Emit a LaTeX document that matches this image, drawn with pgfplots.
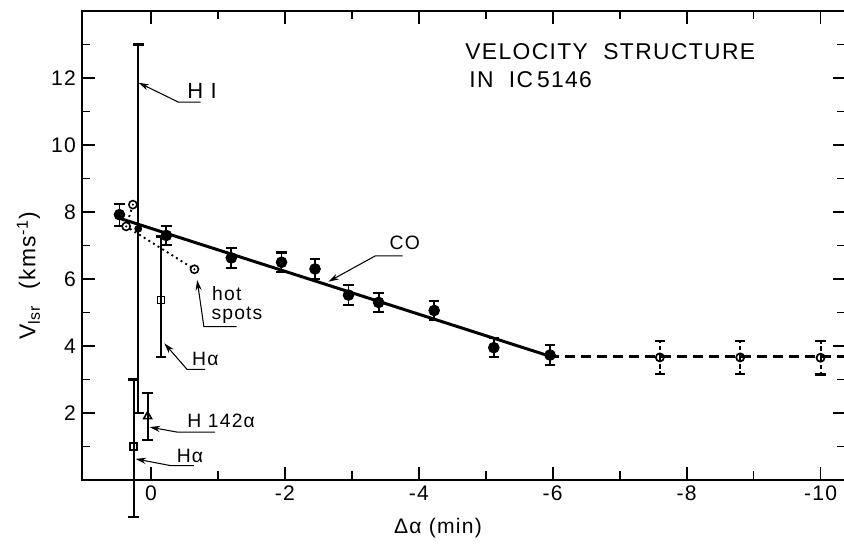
\documentclass[border=0pt]{standalone}
\usepackage{fontspec}
\setmainfont{Liberation Sans}
\newfontfamily\lettering[LetterSpace=6]{Liberation Sans}
\usepackage{pgfplots}
\pgfplotsset{compat=1.18}
\usetikzlibrary{arrows.meta}

% circle with a dot in the middle (hot spots)
\pgfdeclareplotmark{odot}{%
  \pgfpathcircle{\pgfpointorigin}{\pgfplotmarksize}\pgfusepathqfillstroke
  \pgfscope
  \pgfsetfillcolor{black}%
  \pgfpathcircle{\pgfpointorigin}{0.3\pgfplotmarksize}\pgfusepathqfill
  \endpgfscope}

\newcommand{\annfont}{\lettering\fontsize{11}{13}\selectfont}

\pgfplotsset{
  capbar/.style={error bars/.cd, y dir=both, y explicit,
    error bar style={line width=1.1pt},
    error mark options={rotate=90, line width=1.2pt, mark size=3pt}},
}

\begin{document}
\begin{tikzpicture}[font=\lettering\fontsize{13}{16}\selectfont,
  >={Stealth[length=6pt,width=3.5pt]}]
\begin{axis}[
  scale only axis,
  width=15.28cm, height=9.38cm,
  x dir=reverse,
  xmin=-10.38, xmax=1.03,
  ymin=0, ymax=14,
  xtick={-10,-8,...,0},
  minor xtick={-9,-7,...,-1},
  ytick={2,4,...,12},
  minor ytick={1,3,...,13},
  major tick length=0.26cm, minor tick length=0.17cm,
  tick style={black, line width=1pt},
  axis line style={line width=1.1pt},
  /pgf/number format/assume math mode=true,
  ticklabel style={font=\lettering\fontsize{12}{14}\selectfont},
  xlabel={Δα (min)},
  ylabel={V\textsubscript{lsr}\ \ (kms\textsuperscript{-1})},
  xlabel style={at={(axis description cs:0.466,-0.102)}, anchor=center,
    font=\lettering\fontsize{12}{14}\selectfont},
  ylabel style={at={(axis description cs:-0.07,0.435)}, anchor=center},
  clip=false,
]
\coordinate (O) at (axis description cs:0,0);

% CO fit and its extension
\addplot[black, line width=1.7pt] coordinates {(0.45,7.8) (-5.95,3.7)};
\addplot[black, line width=1.4pt, dash pattern=on 0.2cm off 0.12cm]
  coordinates {(-5.95,3.68) (-10.38,3.68)};

% hot spots
\addplot[black, line width=1.1pt, dotted, mark=odot, mark size=2.3pt,
  mark options={solid, fill=white, line width=0.9pt}]
  coordinates {(0.27,8.22) (0.37,7.57) (-0.65,6.29)};

% CO points
\addplot[black, only marks, mark=*, mark size=3.1pt, capbar]
  coordinates {
  (0.47,7.92) +- (0,0.33)
  (-0.23,7.3) +- (0,0.29)
  (-1.2,6.63) +- (0,0.29)
  (-1.95,6.5) +- (0,0.29)
  (-2.45,6.3) +- (0,0.29)
  (-2.95,5.52) +- (0,0.29)
  (-3.4,5.3) +- (0,0.29)
  (-4.23,5.06) +- (0,0.29)
  (-5.12,3.95) +- (0,0.29)
  (-5.96,3.73) +- (0,0.29)
};

% extrapolated points
\addplot[black, only marks, mark=o, mark size=2.3pt,
  mark options={fill=white, line width=1pt},
  error bars/.cd, y dir=both, y explicit,
  error bar style={line width=1.1pt, dash pattern=on 2.5pt off 1.5pt},
  error mark options={rotate=90, solid, line width=1.2pt, mark size=3pt}]
  coordinates {(-7.6,3.66) +- (0,0.5) (-8.8,3.66) +- (0,0.5) (-10.0,3.65) +- (0,0.5)};

% H I range
\addplot[black, only marks, mark=none, capbar]
  coordinates {(0.19,7.5) +- (0,5.5)};

% H alpha (lower)
\addplot[black, only marks, mark=square, mark size=2pt,
  mark options={fill=white, line width=0.9pt}, capbar]
  coordinates {(0.26,1.0) += (0,2.0) -= (0,2.1)};

% H alpha (upper)
\addplot[black, only marks, mark=square, mark size=2pt,
  mark options={fill=white, line width=0.9pt}, capbar]
  coordinates {(-0.15,5.37) += (0,1.9) -= (0,1.7)};

% H 142 alpha
\addplot[black, only marks, mark=triangle, mark size=2.6pt,
  mark options={fill=white, line width=0.9pt}, capbar]
  coordinates {(0.05,1.9) +- (0,0.7)};

% labels with leaders
\node[anchor=base west, inner sep=0, font=\lettering\fontsize{12.5}{15}\selectfont]
  at (axis cs:-0.54,11.38) {H I};
\draw[->, line width=0.6pt] (axis cs:-0.74,11.28) -- (axis cs:-0.41,11.28) -- (axis cs:0.185,11.86);

\node[anchor=base west, inner sep=0, font=\annfont] at (axis cs:-3.56,6.87) {CO};
\draw[->, line width=0.6pt] (axis cs:-3.76,6.69) -- (axis cs:-3.35,6.69) -- (axis cs:-2.65,5.92);

\node[anchor=base west, inner sep=0, font=\annfont] at (axis cs:-0.91,5.37) {hot};
\node[anchor=base west, inner sep=0, font=\annfont] at (axis cs:-0.9,4.78) {spots};
\draw[->, line width=0.6pt] (axis cs:-1.28,4.58) -- (axis cs:-0.79,4.58) -- (axis cs:-0.69,5.97);

\node[anchor=base west, inner sep=0, font=\annfont] at (axis cs:-0.61,3.43) {Hα};
\draw[->, line width=0.6pt] (axis cs:-0.81,3.3) -- (axis cs:-0.54,3.3) -- (axis cs:-0.2,4.08);

\node[anchor=base west, inner sep=0, font=\annfont] at (axis cs:-0.54,1.58) {H 142α};
\draw[->, line width=0.6pt] (axis cs:-0.96,1.43) -- (axis cs:-0.39,1.43) -- (axis cs:0.02,1.58);

\node[anchor=base west, inner sep=0, font=\annfont] at (axis cs:-0.38,0.53) {Hα};
\draw[->, line width=0.6pt] (axis cs:-0.64,0.43) -- (axis cs:-0.29,0.43) -- (axis cs:0.23,0.63);

% title
\node[anchor=base west, inner sep=0] at (axis cs:-4.69,12.56) {VELOCITY\ \ STRUCTURE};
\node[anchor=base west, inner sep=0] at (axis cs:-4.75,11.71) {IN\ \ IC\,5146};
\end{axis}
\pgfresetboundingbox
\path ([shift={(-1.64cm,-1.28cm)}]O) rectangle ([shift={(15.24cm,9.6cm)}]O);
\end{tikzpicture}
\end{document}
